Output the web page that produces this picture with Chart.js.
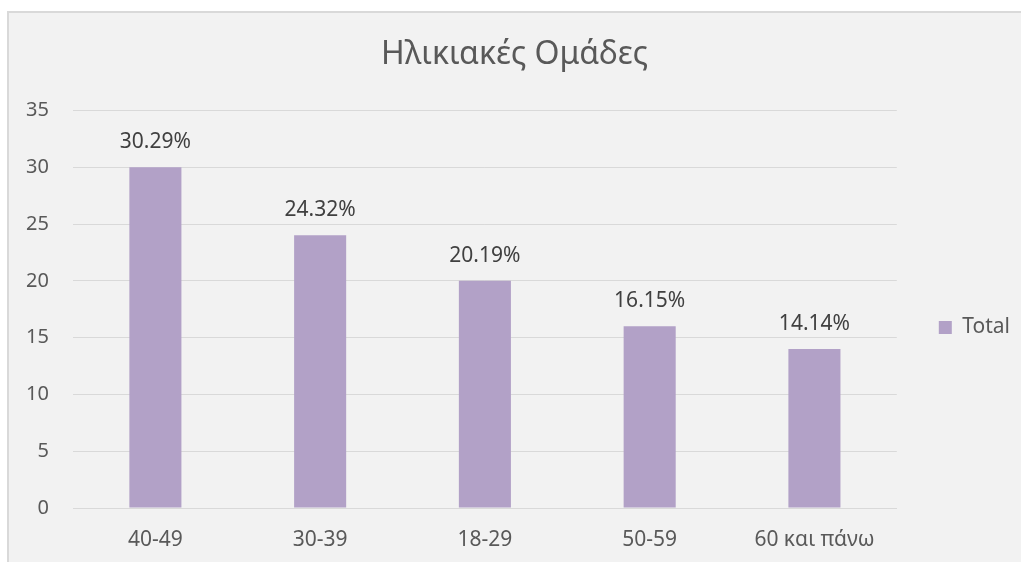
<!DOCTYPE html>
<html>
<head>
<meta charset="utf-8">
<script src="https://cdn.jsdelivr.net/npm/chart.js@4"></script>
<style>
  html, body { margin: 0; padding: 0; background: #fff; overflow: hidden; }
  #frame {
    position: absolute; left: 7px; top: 11px; width: 1014px; height: 551px;
    border-left: 2px solid #d9d9d9; border-top: 2px solid #d9d9d9;
    background: #f2f2f2; overflow: hidden;
  }
  #wrap { position: absolute; left: 0; top: 0; width: 1012px; height: 549px; }
</style>
</head>
<body>
<div id="frame"><div id="wrap"><canvas id="ages"></canvas></div></div>
<script>
const categories = [ '40-49', '30-39', '18-29', '50-59', '60 και πάνω' ]
const totals = [ 30, 24, 20, 16, 14 ]
const percentLabels = [ '30.29%', '24.32%', '20.19%', '16.15%', '14.14%' ]
const yTicks = [ 0, 5, 10, 15, 20, 25, 30, 35 ]

const fontFamily = '"Noto Sans", "DejaVu Sans", sans-serif'

// percentages written above each bar
const barLabels = {
  id: 'barLabels',
  afterDatasetsDraw( chart ) {
    const ctx = chart.ctx
    const meta = chart.getDatasetMeta( 0 )
    ctx.save()
    ctx.font = '21px ' + fontFamily
    ctx.fillStyle = '#404040'
    ctx.textAlign = 'center'
    ctx.textBaseline = 'middle'
    meta.data.forEach( ( bar, i ) => {
      ctx.fillText( percentLabels[ i ], bar.x, bar.y - 25 )
    } )
    ctx.restore()
  }
}

const data = {
  labels: categories,
  datasets: [ {
    label: 'Total',
    data: totals,
    backgroundColor: '#b2a1c7',
    borderWidth: 0,
    barPercentage: 0.316,
    categoryPercentage: 1
  } ]
}

const config = {
  type: 'bar',
  data: data,
  plugins: [ barLabels ],
  options: {
    responsive: true,
    maintainAspectRatio: false,
    animation: false,
    layout: { padding: { left: 0, right: 1, top: 0, bottom: 0 } },
    plugins: {
      title: {
        display: true,
        text: 'Ηλικιακές Ομάδες',
        color: '#595959',
        font: { family: fontFamily, size: 32, weight: 'normal' },
        padding: { top: 23, bottom: 36 }
      },
      legend: {
        position: 'right',
        title: { display: true, text: ' ', font: { size: 10 }, padding: { top: 68, bottom: 0 } },
        labels: {
          color: '#595959',
          font: { family: fontFamily, size: 21 },
          boxWidth: 13,
          boxHeight: 13,
          padding: 42
        }
      },
      tooltip: { enabled: false }
    },
    scales: {
      x: {
        grid: { display: false },
        border: { display: true, color: '#d9d9d9', width: 1 },
        ticks: { color: '#595959', font: { family: fontFamily, size: 21 }, padding: 11 },
        afterFit( scale ) { scale.height = 54 }
      },
      y: {
        min: 0,
        max: 35,
        afterBuildTicks( scale ) { scale.ticks = yTicks.map( v => ( { value: v } ) ) },
        grid: { color: '#d9d9d9', lineWidth: 1, drawTicks: false },
        border: { display: false },
        ticks: { color: '#595959', font: { family: fontFamily, size: 20 }, padding: 24 },
        afterFit( scale ) { scale.width = 64 }
      }
    }
  }
}

const graph = new Chart( document.getElementById( 'ages' ), config )
</script>
</body>
</html>
